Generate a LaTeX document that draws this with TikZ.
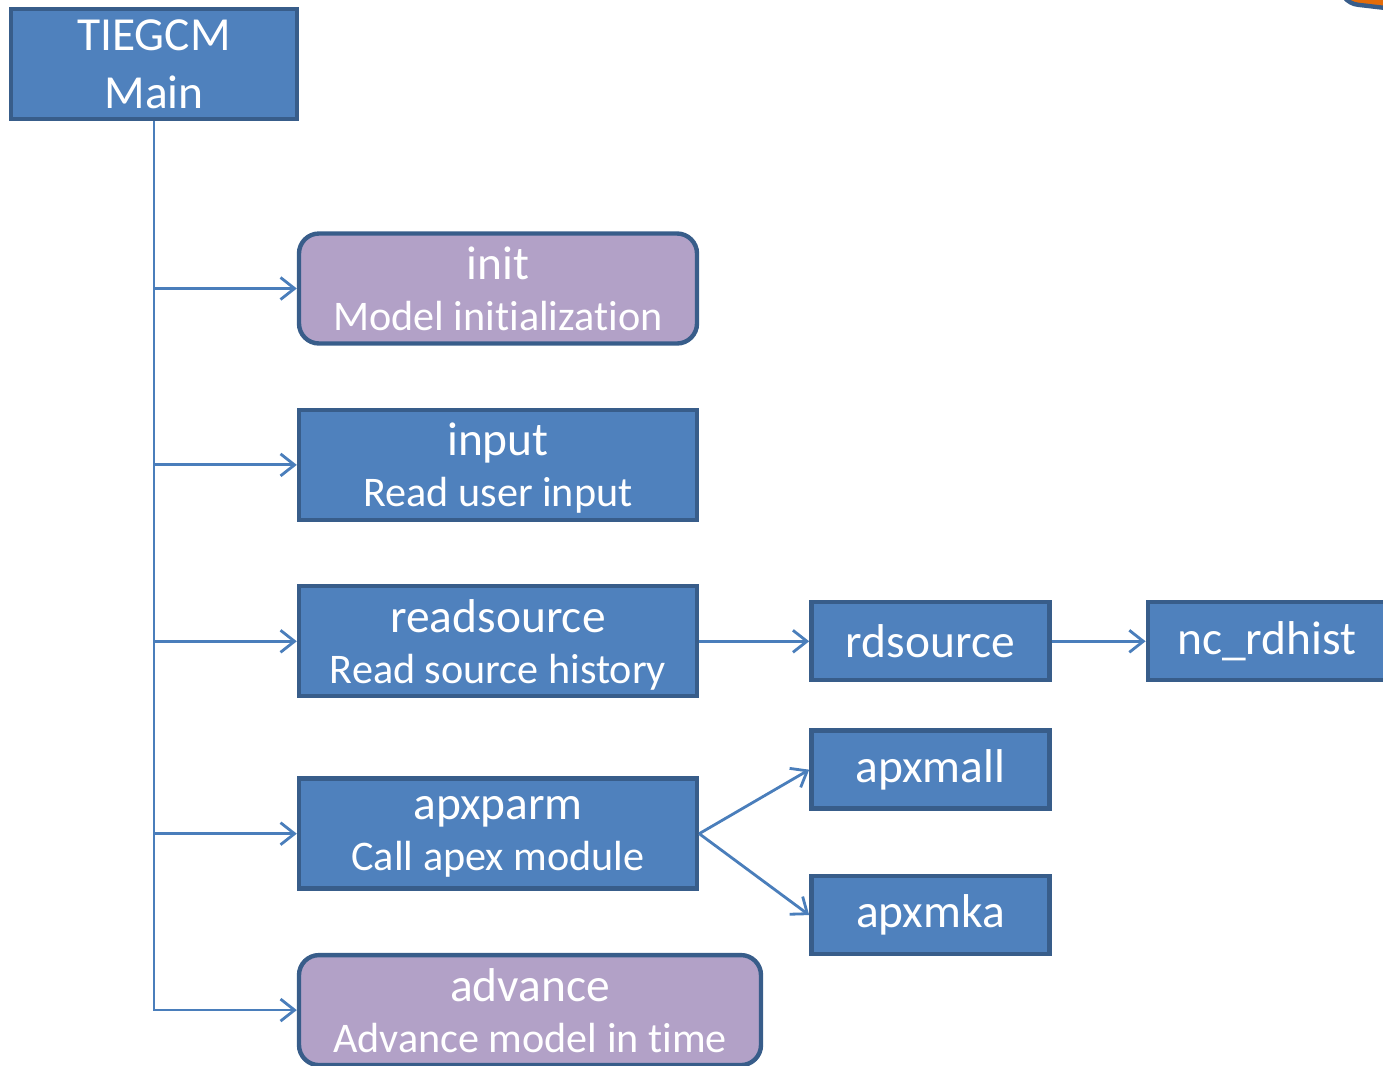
\documentclass[tikz,border=0pt]{standalone}
\usepackage{fontspec}
\setmainfont{Carlito}[Ligatures=NoCommon]
\usetikzlibrary{arrows.meta, positioning}
\definecolor{boxblue}{HTML}{4F81BD}
\definecolor{boxedge}{HTML}{385D8A}
\definecolor{boxpurple}{HTML}{B2A1C7}
\definecolor{linkblue}{HTML}{4A7EBB}
\definecolor{shapeorange}{HTML}{E46C0A}

\begin{document}
\begin{tikzpicture}[thick, > = {Straight Barb[length=2.8mm, width=4.4mm]}]
    \tikzset{
      my box/.style={
        draw=boxedge, line width=2.5pt, fill=boxblue, text=white,
        align=center, inner sep=0pt
      },
      my call/.style={
        my box, minimum width=7.96cm, minimum height=2.2cm,
        font=\fontsize{24}{29}\selectfont, text depth=0pt
      },
      my sub/.style={
        my box, minimum width=4.76cm, minimum height=1.56cm,
        font=\fontsize{27}{31}\selectfont
      },
      my link/.style={draw=linkblue, line width=1.6pt},
    }
    \useasboundingbox (0,0) rectangle (27.66,-21.3);
    \def\CallName{\fontsize{27}{29}\selectfont}
    \def\TI{t\kern0pt i}% keeps t and i apart

    % Cut-off shape in the corner
    \filldraw[fill=shapeorange, draw=boxedge, line width=2.5pt, rounded corners=4mm,
      rotate around={-6.6:(26.76,-0.05)}] (26.76,-0.05) rectangle ++(6,3);

    % Main program and called routines
    \node (main) [my box, minimum width=5.72cm, minimum height=2.2cm,
      font=\fontsize{27}{33}\selectfont] at (3.08,-1.28) {TIEGCM\\Main};
    \node (init) [my call, fill=boxpurple, rounded corners=4mm] at (9.96,-5.77)
    {{\CallName init}\\Model ini\TI aliza\TI on};
    \node (input) [my call, below=1.24cm of init]
    {{\CallName input}\\Read user input};
    \node (readsource) [my call, below=1.24cm of input]
    {{\CallName readsource}\\Read source history};
    \node (apxparm) [my call, below=1.56cm of readsource]
    {{\CallName apxparm}\\Call apex module};
    \node (advance) [my call, fill=boxpurple, rounded corners=4mm, minimum width=9.24cm,
      below=1.24cm of apxparm.south west, anchor=north west]
    {{\CallName advance}\\Advance model in \TI me};

    % Second level
    \node (rdsource) [my sub, right=2.2cm of readsource] {rdsource};
    \node (nc_rdhist) [my sub, right=1.88cm of rdsource] {nc\_rdhist};
    \node (apxmall) [my sub, below=0.92cm of rdsource] {apxmall};
    \node (apxmka) [my sub, below=1.26cm of apxmall] {apxmka};

    % Arrows
    \draw[my link, ->] (main.south) |- (advance.west);
    \foreach \callee in {init, input, readsource, apxparm}
      \draw[my link, ->] (main.south |- \callee.west) -- (\callee.west);
    \draw[my link, ->] (readsource) -- (rdsource);
    \draw[my link, ->] (rdsource) -- (nc_rdhist);
    \draw[my link, ->] (apxparm.east) -- (apxmall.west);
    \draw[my link, ->] (apxparm.east) -- (apxmka.west);
\end{tikzpicture}
\end{document}
